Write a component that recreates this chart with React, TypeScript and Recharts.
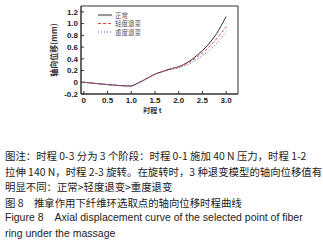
import { LineChart, Line, XAxis, YAxis, ReferenceArea, Legend } from 'recharts';

const times = [0, 0.25, 0.5, 0.75, 1.0, 1.1, 1.25, 1.5, 1.75, 2.0, 2.1, 2.2, 2.3, 2.4, 2.5, 2.6, 2.7, 2.8, 2.9, 3.0];
const normal = [0, -0.02, -0.04, -0.055, -0.065, -0.03, 0.03, 0.14, 0.21, 0.265, 0.3, 0.345, 0.4, 0.47, 0.54, 0.62, 0.72, 0.83, 0.97, 1.12];
const mild = [0, -0.02, -0.04, -0.057, -0.068, -0.032, 0.03, 0.14, 0.21, 0.26, 0.29, 0.33, 0.38, 0.44, 0.5, 0.57, 0.65, 0.74, 0.84, 0.95];
const severe = [0, -0.02, -0.04, -0.058, -0.07, -0.034, 0.028, 0.135, 0.2, 0.245, 0.27, 0.3, 0.35, 0.4, 0.45, 0.51, 0.58, 0.66, 0.75, 0.86];

const xTicks = [0, 0.5, 1.0, 1.5, 2.0, 2.5, 3.0];
const yTicks = [-0.2, 0, 0.2, 0.4, 0.6, 0.8, 1.0, 1.2];
const seriesNames = ['正常', '轻度退变', '重度退变'];

const data = times.map((t, i) => ({ t, normal: normal[i], mild: mild[i], severe: severe[i] }));

const fmt = (v: number) => (v === 0 ? '0' : v.toFixed(1));
const tickStyle = { fontSize: 8, fontWeight: 'bold', fill: '#222', fontFamily: 'Liberation Sans, Arial, sans-serif' };

const legendItems = [
  { name: seriesNames[0], color: '#333', dash: undefined },
  { name: seriesNames[1], color: '#e04848', dash: '3 2' },
  { name: seriesNames[2], color: '#5a5ad8', dash: '1 2' },
];

function LegendBox() {
  return (
    <svg width={60} height={30}>
      {legendItems.map((it, i) => (
        <g key={it.name} transform={`translate(0, ${4 + i * 8.5})`}>
          <line x1={0} x2={14} y1={0} y2={0} stroke={it.color} strokeWidth={1} strokeDasharray={it.dash} />
          <text x={17} y={2.5} fontSize={6.5} fill="#555" fontFamily="Noto Sans CJK SC">{it.name}</text>
        </g>
      ))}
    </svg>
  );
}

const captionStyle = {
  fontFamily: 'Noto Sans CJK SC, sans-serif',
  fontSize: 10.4,
  color: '#222',
  lineHeight: '15.5px',
  margin: 0,
  paddingLeft: 5,
  whiteSpace: 'nowrap' as const,
};

const enStyle = { ...captionStyle, fontFamily: 'Liberation Sans, Arial, sans-serif', fontSize: 10.5 };

export default function App() {
  return (
    <div style={{ position: 'absolute', left: 0, top: 0, width: 323, height: 245, background: '#fff', overflow: 'hidden' }}>
      <LineChart width={323} height={148} data={data} margin={{ top: 6, right: 85, left: 0, bottom: 0 }}>
        <XAxis
          dataKey="t"
          type="number"
          domain={[-0.06, 3.25]}
          ticks={xTicks}
          interval={0}
          tickFormatter={fmt}
          allowDataOverflow
          height={20}
          stroke="#333"
          tickSize={-3}
          tickMargin={6}
          tick={tickStyle}
          label={{ value: '时程 t', position: 'insideBottom', offset: 1, dx: -7, style: { fontSize: 7, fontWeight: 'bold', fill: '#333', fontFamily: 'Noto Sans CJK SC' } }}
        />
        <YAxis
          type="number"
          domain={[-0.2, 1.3]}
          ticks={yTicks}
          interval={0}
          tickFormatter={fmt}
          allowDataOverflow
          width={81}
          stroke="#333"
          tickSize={-3}
          tickMargin={6}
          tick={tickStyle}
          label={{ value: '轴向位移(mm)', angle: -90, position: 'insideLeft', offset: 54, style: { textAnchor: 'middle', fontSize: 8, fontWeight: 'bold', fill: '#333', fontFamily: 'Noto Sans CJK SC' } }}
        />
        <ReferenceArea x1={-0.06} x2={3.25} y1={-0.2} y2={1.3} fill="none" stroke="#333" strokeWidth={1} ifOverflow="visible" />
        <Legend content={<LegendBox />} wrapperStyle={{ position: 'absolute', left: 98, top: 11, width: 60 }} />
        <Line type="linear" dataKey="normal" name={seriesNames[0]} stroke="#333" strokeWidth={1} dot={false} isAnimationActive={false} />
        <Line type="linear" dataKey="mild" name={seriesNames[1]} stroke="#e04848" strokeWidth={1} strokeDasharray="3 2" dot={false} isAnimationActive={false} />
        <Line type="linear" dataKey="severe" name={seriesNames[2]} stroke="#5a5ad8" strokeWidth={1} strokeDasharray="1 2" dot={false} isAnimationActive={false} />
      </LineChart>
      <div style={{ marginTop: 0 }}>
        <p style={captionStyle}>图注：时程 0-3 分为 3 个阶段：时程 0-1 施加 40 N 压力，时程 1-2</p>
        <p style={captionStyle}>拉伸 140 N，时程 2-3 旋转。在旋转时，3 种退变模型的轴向位移值有</p>
        <p style={captionStyle}>明显不同：正常&gt;轻度退变&gt;重度退变</p>
        <p style={captionStyle}>图 8　推拿作用下纤维环选取点的轴向位移时程曲线</p>
        <p style={enStyle}>Figure 8&nbsp;&nbsp;&nbsp; Axial displacement curve of the selected point of fiber</p>
        <p style={enStyle}>ring under the massage</p>
      </div>
    </div>
  );
}
